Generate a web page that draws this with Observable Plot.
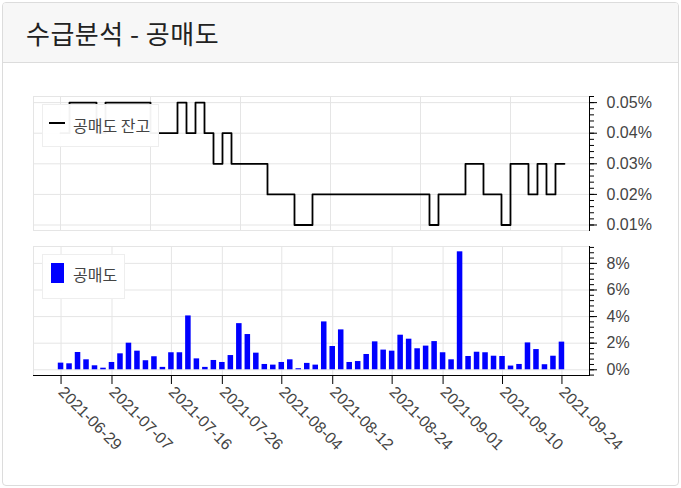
<!DOCTYPE html>
<html>
<head>
<meta charset="utf-8">
<script src="https://cdn.jsdelivr.net/npm/d3@7"></script>
<script src="https://cdn.jsdelivr.net/npm/@observablehq/plot@0.6"></script>
<style>
html,body{margin:0;padding:0;background:#fff;}
body{width:681px;height:488px;position:relative;overflow:hidden;font-family:"Liberation Sans",Arial,sans-serif;}
#card{position:absolute;left:2px;top:2px;width:677px;height:484px;box-sizing:border-box;border:1px solid #dcdcdc;border-radius:4px;background:#fff;overflow:hidden;}
#header{position:absolute;left:0;top:0;width:100%;height:60px;box-sizing:border-box;background:#f7f7f7;border-bottom:1px solid #dcdcdc;display:flex;align-items:center;}
#title{margin-left:23px;font-family:"Noto Sans CJK KR","Noto Sans",sans-serif;font-size:26px;line-height:1;color:#222;letter-spacing:0.5px;}
#top{position:absolute;left:0;top:63px;}
#bottom{position:absolute;left:0;top:238px;}
.legend{position:absolute;background:rgba(255,255,255,0.95);border:1px solid #eeeeee;box-sizing:border-box;}
.legend span.t{position:absolute;font-family:"Noto Sans CJK KR",sans-serif;font-size:16px;line-height:1;color:#444;white-space:nowrap;}
</style>
</head>
<body>
<div id="card"><div id="header"><div id="title">수급분석 - 공매도</div></div></div>
<div id="top"></div>
<div id="bottom"></div>
<div class="legend" style="left:42px;top:104px;width:117px;height:43px;">
  <div style="position:absolute;left:6px;top:17px;width:16px;height:2px;background:#000;"></div>
  <span class="t" style="left:30px;top:12px;">공매도 잔고</span>
</div>
<div class="legend" style="left:42px;top:254px;width:83px;height:45px;">
  <div style="position:absolute;left:8px;top:8px;width:13px;height:20px;background:#0000ff;"></div>
  <span class="t" style="left:30px;top:11px;">공매도</span>
</div>
<script>
// ---- data ----
// trading dates (bottom panel categories)
const dates = [
 "2021-06-29","2021-06-30","2021-07-01","2021-07-02","2021-07-05","2021-07-06","2021-07-07","2021-07-08","2021-07-09","2021-07-12",
 "2021-07-13","2021-07-14","2021-07-15","2021-07-16","2021-07-19","2021-07-20","2021-07-21","2021-07-22","2021-07-23","2021-07-26",
 "2021-07-27","2021-07-28","2021-07-29","2021-07-30","2021-08-02","2021-08-03","2021-08-04","2021-08-05","2021-08-06","2021-08-09",
 "2021-08-10","2021-08-11","2021-08-12","2021-08-13","2021-08-17","2021-08-18","2021-08-19","2021-08-20","2021-08-23","2021-08-24",
 "2021-08-25","2021-08-26","2021-08-27","2021-08-30","2021-08-31","2021-09-01","2021-09-02","2021-09-03","2021-09-06","2021-09-07",
 "2021-09-08","2021-09-09","2021-09-10","2021-09-13","2021-09-14","2021-09-15","2021-09-16","2021-09-17","2021-09-23","2021-09-24"
];
// daily short-selling ratio (%)
const shortRatio = [
 0.5,0.45,1.3,0.75,0.3,0.12,0.55,1.2,2.0,1.4,
 0.68,0.98,0.18,1.28,1.28,4.05,0.82,0.18,0.7,0.55,
 1.07,3.47,2.65,1.25,0.4,0.35,0.55,0.75,0.08,0.48,
 0.35,3.6,1.75,3.0,0.55,0.62,1.15,2.1,1.48,1.4,
 2.6,2.3,1.58,1.78,2.12,1.28,0.75,8.87,1.0,1.32,
 1.28,1.02,1.0,0.28,0.4,2.02,1.52,0.38,1.02,2.08
];
// short-selling balance (%), indexed series
const balance = [
 0.04, 0.05,0.05,0.05, 0.04, 0.05,0.05,0.05,0.05,0.05,
 0.04,0.04,0.04, 0.05, 0.04, 0.05, 0.04, 0.03, 0.04,
 0.03,0.03,0.03,0.03, 0.02,0.02,0.02, 0.01,0.01,
 0.02,0.02,0.02,0.02,0.02,0.02,0.02,0.02,0.02,0.02,0.02,0.02,0.02,
 0.01, 0.02,0.02,0.02, 0.03,0.03, 0.02,0.02, 0.01, 0.03,0.03,
 0.02, 0.03, 0.02, 0.03, 0.03
];
const balanceIndex = balance.map((d, i) => i);
const xTickDates = ["2021-06-29","2021-07-07","2021-07-16","2021-07-26","2021-08-04","2021-08-12","2021-08-24","2021-09-01","2021-09-10","2021-09-24"];
const topGridX = [0, 10, 20, 30, 40, 50];
const topTicks = [0.01, 0.02, 0.03, 0.04, 0.05];
const bottomTicks = [0, 2, 4, 6, 8];

// ---- styles ----
const gridColor = "#e5e5e5";
const labelColor = "#444";
const fontFamily = "'Liberation Sans', Arial, sans-serif";

const topMinor = d3.range(0.010, 0.0521, 0.002);
const bottomMinor = d3.range(-0.4, 9.3, 0.4);

const topPlot = Plot.plot({
  width: 681, height: 175,
  marginLeft: 33, marginRight: 92, marginTop: 33, marginBottom: 8,
  style: {fontFamily, background: "transparent", overflow: "visible"},
  x: {domain: [-3, 58.78], axis: null},
  y: {domain: [0.0082, 0.052], axis: null},
  marks: [
    Plot.frame({stroke: gridColor}),
    Plot.gridX(topGridX, {stroke: gridColor, strokeOpacity: 1}),
    Plot.gridY(topTicks, {stroke: gridColor, strokeOpacity: 1}),
    Plot.lineY(balance, {x: balanceIndex, y: balance, curve: "step-after", stroke: "#000", strokeWidth: 1.8}),
    Plot.frame({anchor: "right", stroke: "#000"}),
    Plot.axisY(topMinor, {anchor: "right", tickSize: 4, text: null, stroke: "#000"}),
    Plot.axisY(topTicks, {anchor: "right", tickSize: 7, tickPadding: 10, fontSize: 16, fill: labelColor, stroke: "#000",
      tickFormat: d => d.toFixed(2) + "%"})
  ]
});
document.getElementById("top").appendChild(topPlot);

const bottomPlot = Plot.plot({
  width: 681, height: 245,
  marginLeft: 33, marginRight: 92, marginTop: 8, marginBottom: 108,
  style: {fontFamily, background: "transparent", overflow: "visible"},
  x: {type: "band", domain: dates, paddingInner: 0.35, paddingOuter: 2.92, align: 0.5, round: false, axis: null},
  y: {domain: [-0.43, 9.27], axis: null},
  marks: [
    Plot.frame({stroke: gridColor}),
    Plot.gridX(xTickDates, {stroke: gridColor, strokeOpacity: 1}),
    Plot.gridY(bottomTicks, {stroke: gridColor, strokeOpacity: 1}),
    Plot.barY(dates, {x: dates, y: shortRatio, fill: "#0000ff"}),
    Plot.frame({anchor: "bottom", stroke: "#000"}),
    Plot.frame({anchor: "right", stroke: "#000"}),
    Plot.axisX(xTickDates, {anchor: "bottom", tickSize: 9, tickPadding: 5, tickRotate: 45, fontSize: 16, fill: labelColor, stroke: "#000"}),
    Plot.axisY(bottomMinor, {anchor: "right", tickSize: 4, text: null, stroke: "#000"}),
    Plot.axisY(bottomTicks, {anchor: "right", tickSize: 7, tickPadding: 10, fontSize: 16, fill: labelColor, stroke: "#000",
      tickFormat: d => d + "%"})
  ]
});
document.getElementById("bottom").appendChild(bottomPlot);
</script>
</body>
</html>
